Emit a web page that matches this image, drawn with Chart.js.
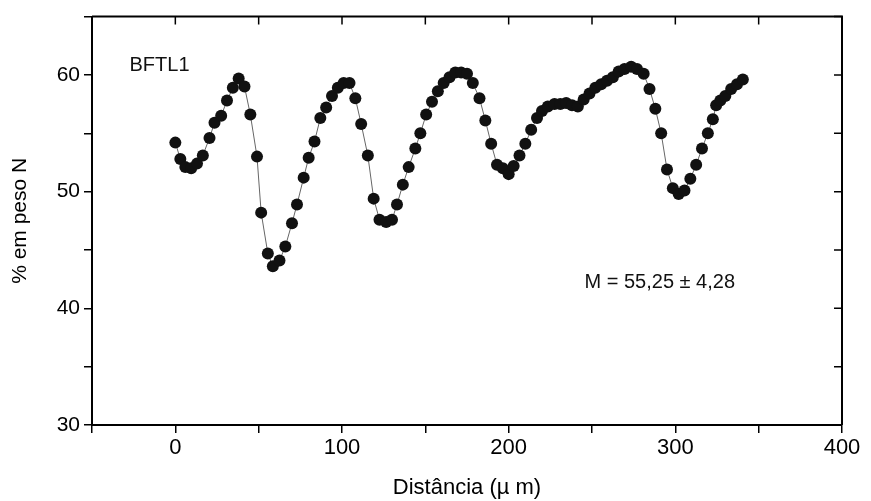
<!DOCTYPE html>
<html>
<head>
<meta charset="utf-8">
<script src="https://cdn.jsdelivr.net/npm/chart.js@4"></script>
<style>
  html, body { margin: 0; padding: 0; background: #fff; }
  #box { width: 871px; height: 501px; }
</style>
</head>
<body>
<div id="box"><canvas id="grafico"></canvas></div>
<script>
// distância (µm) e % em peso N
var distancias = [0, 3, 6, 9.5, 13, 16.5, 20.5, 23.5, 27.5, 31, 34.5, 38, 41.5, 45, 49, 51.5, 55.5, 58.5, 62.5, 66,
    70, 73, 77, 80, 83.5, 87, 90.5, 94, 97.5, 101, 104.5, 108, 111.5, 115.5, 119, 122.5, 126.5, 130, 133, 136.5,
    140, 144, 147, 150.5, 154, 157.5, 161, 164.5, 168, 171.5, 175, 178.5, 182.5, 186, 189.5, 193, 196.5, 200, 203, 206.5,
    210, 213.5, 217, 220, 223.5, 227.5, 231, 234.5, 238, 241.5, 245, 248.5, 252, 255.5, 259, 262.5, 266, 269.5, 273.5, 277,
    281, 284.5, 288, 291.5, 295, 298.5, 302, 305.5, 309, 312.5, 316, 319.5, 322.5, 324.5, 327, 330, 333.5, 337, 340.5]
var pesoN = [54.2, 52.8, 52.1, 52.0, 52.4, 53.1, 54.6, 55.9, 56.5, 57.8, 58.9, 59.7, 59.0, 56.6, 53.0, 48.2, 44.7, 43.6, 44.1, 45.3,
    47.3, 48.9, 51.2, 52.9, 54.3, 56.3, 57.2, 58.2, 58.9, 59.3, 59.3, 58.0, 55.8, 53.1, 49.4, 47.6, 47.4, 47.6, 48.9, 50.6,
    52.1, 53.7, 55.0, 56.6, 57.7, 58.6, 59.3, 59.8, 60.2, 60.2, 60.1, 59.3, 58.0, 56.1, 54.1, 52.3, 52.0, 51.5, 52.2, 53.1,
    54.1, 55.3, 56.3, 56.9, 57.3, 57.5, 57.5, 57.6, 57.4, 57.3, 57.9, 58.4, 58.9, 59.2, 59.5, 59.8, 60.3, 60.5, 60.7, 60.5,
    60.1, 58.8, 57.1, 55.0, 51.9, 50.3, 49.8, 50.1, 51.1, 52.3, 53.7, 55.0, 56.2, 57.4, 57.8, 58.2, 58.8, 59.2, 59.6]
var rotulos = ['BFTL1', 'M = 55,25 ± 4,28']

var pontos = []
for (var i = 0; i < distancias.length; i++) {
    pontos.push({ x: distancias[i], y: pesoN[i] })
}

var fonte = '"Liberation Sans", Arial, sans-serif'

// moldura de cima e da direita, com marcas para dentro, e os textos
const moldura = {
    id: 'moldura',
    afterDraw(chart) {
        const ctx = chart.ctx
        const area = chart.chartArea
        const sx = chart.scales.x
        const sy = chart.scales.y
        ctx.save()
        ctx.strokeStyle = '#000'
        ctx.lineWidth = 2
        ctx.beginPath()
        ctx.moveTo(area.left, area.top)
        ctx.lineTo(area.right, area.top)
        ctx.lineTo(area.right, area.bottom)
        ctx.stroke()
        ctx.lineWidth = 1.5
        ctx.beginPath()
        sx.ticks.forEach(function (t) {
            var px = sx.getPixelForValue(t.value)
            ctx.moveTo(px, area.top)
            ctx.lineTo(px, area.top + 8)
        })
        sy.ticks.forEach(function (t) {
            var py = sy.getPixelForValue(t.value)
            ctx.moveTo(area.right, py)
            ctx.lineTo(area.right - 8, py)
        })
        ctx.stroke()

        ctx.fillStyle = '#111'
        ctx.font = '20px ' + fonte
        ctx.textBaseline = 'middle'
        ctx.textAlign = 'left'
        ctx.fillText(rotulos[0], sx.getPixelForValue(-27.5), sy.getPixelForValue(60.85))
        ctx.fillText(rotulos[1], sx.getPixelForValue(245.5), sy.getPixelForValue(42.2))
        ctx.restore()
    }
}

const ctx = document.getElementById('grafico')

const grafico = new Chart(ctx, {
    type: 'scatter',
    data: {
        datasets: [
            {
                data: pontos,
                showLine: true,
                borderColor: '#666',
                borderWidth: 1,
                pointRadius: 6,
                pointBackgroundColor: '#111',
                pointBorderColor: '#111',
                pointBorderWidth: 0,
            },
        ],
    },
    options: {
        responsive: true,
        maintainAspectRatio: false,
        animation: false,
        layout: {
            padding: { top: 14, right: 29, left: 0, bottom: 0 }
        },
        plugins: {
            legend: { display: false },
            tooltip: { enabled: false },
        },
        scales: {
            x: {
                type: 'linear',
                min: -50,
                max: 400,
                afterFit: function (s) { s.height = 76 },
                border: { display: true, color: '#000', width: 2 },
                grid: { drawOnChartArea: false, color: '#000', tickLength: 8, lineWidth: 1.5 },
                ticks: {
                    stepSize: 50,
                    color: '#000',
                    padding: 2,
                    maxRotation: 0,
                    autoSkip: false,
                    font: { family: fonte, size: 22 },
                    callback: function (v) { return v % 100 === 0 ? String(v) : '' },
                },
                title: {
                    display: true,
                    text: 'Distância (µ m)',
                    color: '#000',
                    padding: { top: 0, bottom: 0 },
                    font: { family: fonte, size: 22 },
                },
            },
            y: {
                min: 30,
                max: 65,
                afterFit: function (s) { s.width = 92 },
                border: { display: true, color: '#000', width: 2 },
                grid: { drawOnChartArea: false, color: '#000', tickLength: 8, lineWidth: 1.5 },
                ticks: {
                    stepSize: 5,
                    color: '#000',
                    padding: 4,
                    autoSkip: false,
                    font: { family: fonte, size: 21 },
                    callback: function (v) { return v % 10 === 0 ? String(v) : '' },
                },
                title: {
                    display: true,
                    text: '% em peso N',
                    color: '#000',
                    padding: { top: 8, bottom: 0 },
                    font: { family: fonte, size: 21 },
                },
            },
        },
    },
    plugins: [moldura],
})
</script>
</body>
</html>
